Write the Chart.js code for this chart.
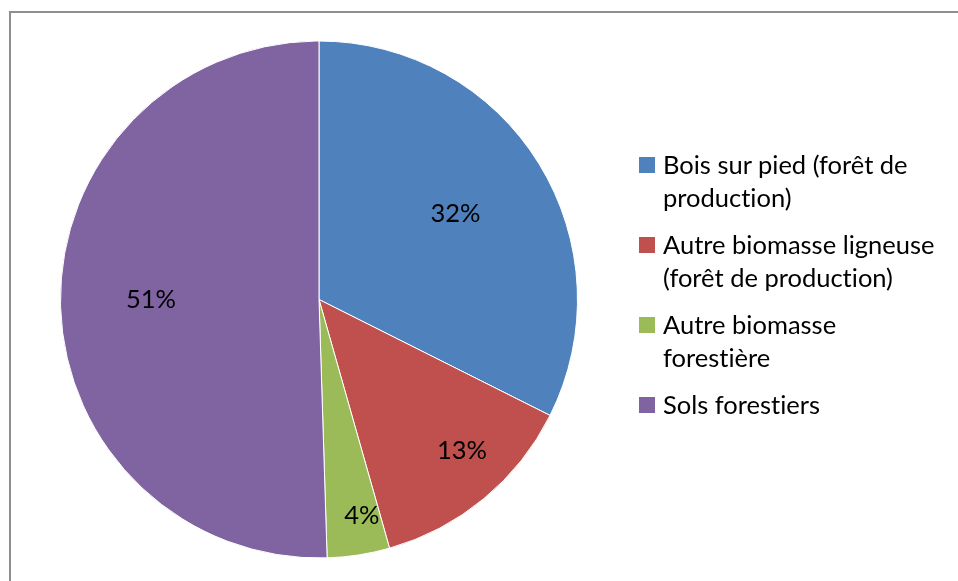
<!DOCTYPE html>
<html>
<head>
    <title>Répartition du carbone forestier</title>
    <script src="https://cdn.jsdelivr.net/npm/chart.js"></script>
    <style>
        body {
            margin: 0;
            width: 958px;
            height: 581px;
            overflow: hidden;
            background: #fff;
            font-family: 'Lato', sans-serif;
            position: relative;
        }
        .frame {
            position: absolute;
            left: 9px;
            top: 11px;
            width: 1000px;
            height: 1000px;
            border: 2px solid #8e8e8e;
            box-sizing: border-box;
        }
        .chart-box {
            position: absolute;
            left: 0;
            top: 0;
            width: 958px;
            height: 581px;
        }
        #legend {
            position: absolute;
            left: 639px;
            top: 148px;
            font-size: 25.5px;
            color: #000;
            font-variant-ligatures: none;
        }
        .item {
            display: flex;
            align-items: flex-start;
            margin-bottom: 14px;
        }
        .swatch {
            width: 16px;
            height: 16px;
            margin-top: 9px;
            margin-right: 8px;
            flex: none;
        }
        .item div.txt {
            line-height: 33px;
            white-space: nowrap;
        }
    </style>
</head>
<body>
    <div class="frame"></div>
    <div class="chart-box">
        <canvas id="pieChart" width="958" height="581"></canvas>
    </div>
    <div id="legend"></div>

    <script>
        // categories (legend lines kept as they wrap in the original)
        const categories = [
            ['Bois sur pied (forêt de', 'production)'],
            ['Autre biomasse ligneuse', '(forêt de production)'],
            ['Autre biomasse', 'forestière'],
            ['Sols forestiers']
        ];
        // shares in percent
        const shares = [32.4, 13.2, 3.9, 50.5];
        const colors = ['#4F81BD', '#C0504D', '#9BBB59', '#8064A2'];

        // where each % label sits: fraction of the radius, and a small turn (rad)
        const labelRadius = [0.62, 0.81, 0.86, 0.65];
        const labelTurn = [0.0, -0.06, -0.04, 0.0];

        const pctLabels = {
            id: 'pctLabels',
            afterDatasetsDraw(chart) {
                const ctx = chart.ctx;
                const meta = chart.getDatasetMeta(0);
                ctx.save();
                ctx.font = '25.5px Lato';
                ctx.fillStyle = '#000';
                ctx.textAlign = 'center';
                ctx.textBaseline = 'middle';
                meta.data.forEach((arc, i) => {
                    const p = arc.getProps(['x', 'y', 'startAngle', 'endAngle', 'outerRadius'], true);
                    const mid = (p.startAngle + p.endAngle) / 2 + labelTurn[i];
                    const r = p.outerRadius * labelRadius[i];
                    ctx.fillText(Math.round(shares[i]) + '%', p.x + Math.cos(mid) * r, p.y + Math.sin(mid) * r - 2);
                });
                ctx.restore();
            }
        };

        new Chart(document.getElementById('pieChart'), {
            type: 'pie',
            data: {
                labels: categories.map(c => c.join(' ')),
                datasets: [{
                    data: shares,
                    backgroundColor: colors,
                    borderColor: '#ffffff',
                    borderWidth: 1
                }]
            },
            options: {
                responsive: false,
                animation: false,
                layout: {
                    padding: {left: 60, top: 40, right: 380, bottom: 22}
                },
                plugins: {
                    legend: {display: false},
                    tooltip: {enabled: false}
                }
            },
            plugins: [pctLabels]
        });

        // legend as html so labels wrap like the original
        const legend = document.getElementById('legend');
        categories.forEach((lines, i) => {
            const item = document.createElement('div');
            item.className = 'item';
            const sw = document.createElement('span');
            sw.className = 'swatch';
            sw.style.background = colors[i];
            const txt = document.createElement('div');
            txt.className = 'txt';
            txt.innerHTML = lines.join('<br>');
            item.appendChild(sw);
            item.appendChild(txt);
            legend.appendChild(item);
        });
    </script>
</body>
</html>
